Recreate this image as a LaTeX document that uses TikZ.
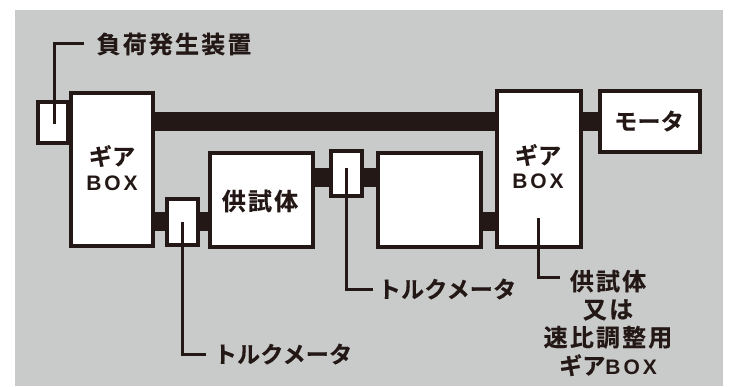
\documentclass[tikz,border=0pt]{standalone}
\usepackage{fontspec}
\usetikzlibrary{backgrounds}
\newfontfamily\kanjifont[LetterSpace=9,FakeBold=0.4]{Noto Sans CJK JP Bold}
\newfontfamily\kanafont[LetterSpace=1,FakeBold=0.4]{Noto Sans CJK JP Bold}
\newfontfamily\boxfont[LetterSpace=14]{Liberation Sans Bold}
\definecolor{ink}{HTML}{231815}
\definecolor{panel}{HTML}{C9CBCA}
\tikzset{
  x=1pt,y=-1pt,
  unit/.style={draw=ink,fill=white,line width=4pt,inner sep=0pt,outer sep=0pt,text=ink},
  shaft/.style={draw=ink,line width=19pt},
  leader/.style={draw=ink,line width=3pt,line join=miter},
  lab/.style={text=ink,inner sep=0pt,align=center,font=\fontsize{23pt}{28pt}\selectfont}
}
\newcommand{\BX}{{\fontsize{21pt}{28pt}\selectfont\boxfont BOX}}
\newcommand{\KJ}[1]{{\fontsize{24pt}{28pt}\selectfont\kanjifont #1}}
\newcommand{\KN}[1]{{\kanafont #1}}
\begin{document}
\begin{tikzpicture}
\useasboundingbox (0,0) rectangle (731,386);
\begin{scope}[on background layer]
\fill[panel] (15,10) rectangle (723,386);
\end{scope}
% units
\node[unit,minimum width=30pt,minimum height=41pt] (load) at (53,122.5) {};
\node[unit,minimum width=82pt,minimum height=153pt] (gearL) at (112,169.5) {};
\node[unit,minimum width=84pt,minimum height=156pt] (gearR) at (539,169) {};
\node[unit,minimum width=100pt,minimum height=61pt] (motor) at (650,121.5) {};
\node[unit,minimum width=103pt,minimum height=94pt] (spec) at (261.5,200) {};
\node[unit,minimum width=103pt,minimum height=94pt] (blank) at (429.5,200) {};
\node[unit,minimum width=31pt,minimum height=46pt] (tqA) at (182.5,222) {};
\node[unit,minimum width=31pt,minimum height=45pt] (tqB) at (346.5,173.5) {};
% box texts
\node[lab] (tgL) at (112,156) {\KN{ギア}};
\node[lab] (tbL) at (112,183) {\BX};
\node[lab] (tgR) at (538,155) {\KN{ギア}};
\node[lab] (tbR) at (538,181) {\BX};
\node[lab] (tm) at (649,121) {\KN{モータ}};
\node[lab] (ts) at (260,201) {\KJ{供試体}};
% shafts
\begin{scope}[on background layer]
\path[shaft] (gearL.east |- 0,121.5) -- (gearR.west |- 0,121.5);
\path[shaft] (gearR.east |- 0,121.5) -- (motor.west |- 0,121.5);
\path[shaft] (gearL.east |- 0,221.5) -- (spec.west |- 0,221.5);
\path[shaft] (spec.east |- 0,177.5) -- (blank.west |- 0,177.5);
\path[shaft] (blank.east |- 0,221.5) -- (gearR.west |- 0,221.5);
\end{scope}
% labels
\node[lab] (lLoad) at (174,44) {\KJ{負荷発生装置}};
\node[lab] (lTqA) at (283,354) {\KN{トルクメータ}};
\node[lab] (lTqB) at (447,289) {\KN{トルクメータ}};
\node[lab] (lSpec) at (608,323) {\KJ{供試体}\\\KJ{又は}\\\KJ{速比調整用}\\\KN{ギア}\BX};
% leaders
\coordinate (aLoad) at (54,124);
\coordinate (bLoad) at (84,43);
\coordinate (aTqA) at (182,222);
\coordinate (bTqA) at (206,354);
\coordinate (aTqB) at (346,168);
\coordinate (bTqB) at (373,289);
\coordinate (aGear) at (538,218);
\coordinate (bGear) at (560,277);
\draw[leader] (aLoad) |- (bLoad);
\draw[leader] (aTqA) |- (bTqA);
\draw[leader] (aTqB) |- (bTqB);
\draw[leader] (aGear) |- (bGear);
\end{tikzpicture}
\end{document}
